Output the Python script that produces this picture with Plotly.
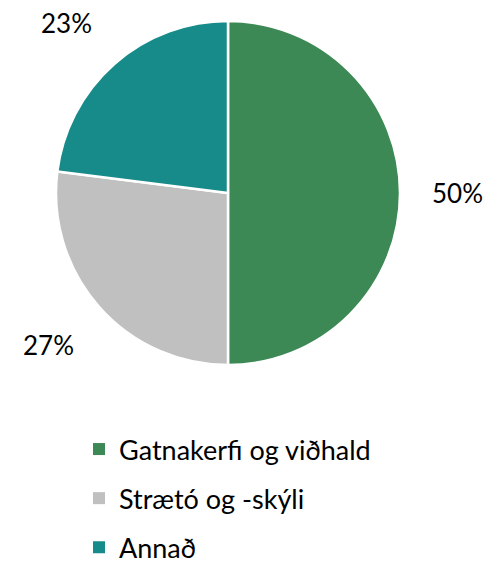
import math
import plotly.graph_objects as go

# Skipting útgjalda
labels = ["Gatnakerfi og viðhald", "Strætó og -skýli", "Annað"]
values = [50, 27, 23]
colors = ["#3D8955", "#C0C0C0", "#178B8A"]

W, H = 485, 561
CX, CY, R = 228, 193, 172       # pie centre and radius in pixels
LABEL_GAP = 30                  # gap between the pie edge and its percentage labels

fig = go.Figure()

fig.add_trace(go.Pie(
    labels=labels,
    values=values,
    sort=False,
    direction="clockwise",
    rotation=0,
    marker=dict(colors=colors, line=dict(color="white", width=2.5)),
    textinfo="none",
    showlegend=False,
    hoverinfo="label+percent",
    domain=dict(x=[(CX - R) / W, (CX + R) / W], y=[1 - (CY + R) / H, 1 - (CY - R) / H]),
))

# Percentage labels placed outside each slice, at the slice's middle angle
total = sum(values)
cum = 0
for v in values:
    mid = (cum + v / 2) / total * 2 * math.pi   # clockwise from 12 o'clock
    cum += v
    dx, dy = math.sin(mid), -math.cos(mid)      # screen direction (y down)
    px = CX + (R + LABEL_GAP) * dx
    py = CY + (R + LABEL_GAP) * dy
    xanchor = "left" if dx > 0.3 else ("right" if dx < -0.3 else "center")
    yanchor = "top" if dy > 0.3 else ("bottom" if dy < -0.3 else "middle")
    fig.add_annotation(
        x=px / W, y=1 - py / H, xref="paper", yref="paper",
        text=f"{round(100 * v / total)}%", showarrow=False,
        xanchor=xanchor, yanchor=yanchor,
        font=dict(family="Lato", size=26, color="#000000"),
    )

# Legend entries as separate groups so the row spacing can be set
for i, (lab, col) in enumerate(zip(labels, colors)):
    fig.add_trace(go.Scatter(
        x=[None], y=[None], mode="markers", name=lab,
        legendgroup=f"g{i}",
        marker=dict(symbol="square", size=12, color=col),
        hoverinfo="skip",
    ))

fig.update_layout(
    width=W, height=H,
    margin=dict(l=0, r=0, t=0, b=0, autoexpand=False),
    paper_bgcolor="white",
    plot_bgcolor="white",
    xaxis=dict(visible=False),
    yaxis=dict(visible=False),
    legend=dict(
        x=79 / W, xanchor="left",
        y=1 - 425 / H, yanchor="top",
        font=dict(family="Lato", size=27, color="#000000"),
        tracegroupgap=11,
        itemsizing="trace",
        bgcolor="rgba(0,0,0,0)",
    ),
)

fig.write_html("out.html")
